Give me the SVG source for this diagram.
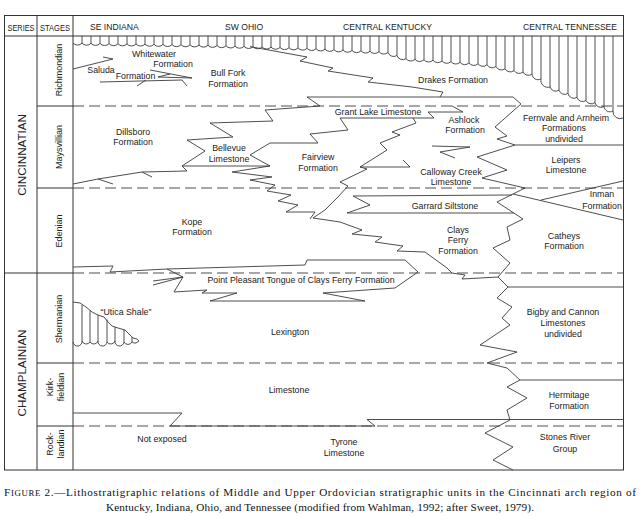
<svg xmlns="http://www.w3.org/2000/svg" width="640" height="516" viewBox="0 0 640 516">
<style>
.fr{fill:none;stroke:#333;stroke-width:1}
.l{fill:none;stroke:#3a3a3a;stroke-width:0.9;stroke-linejoin:miter}
.d{fill:none;stroke:#3a3a3a;stroke-width:0.9;stroke-dasharray:11 5}
.t{font-family:"Liberation Sans",Arial,sans-serif;font-size:8.8px;fill:#222;text-anchor:middle}
.h{font-family:"Liberation Sans",Arial,sans-serif;font-size:8.6px;fill:#222}
.s{font-family:"Liberation Sans",Arial,sans-serif;font-size:9px;fill:#222;text-anchor:middle}
.se{font-family:"Liberation Sans",Arial,sans-serif;font-size:11.6px;fill:#222;text-anchor:middle}
.cap{font-family:"Liberation Serif","Times New Roman",serif;font-size:11.2px;fill:#111}
</style>
<rect width="640" height="516" fill="#fff"/>
<g id="frame">
<rect class="fr" x="4.5" y="15.5" width="619" height="454.5"/>
<path class="fr" d="M4.5,36H623.5M37,15.5V470M73,15.5V470M4.5,273H73M37,106H73M37,188H73M37,363H73M37,426H73"/>
</g>
<g id="headers">
<text class="h" x="7.5" y="30.5" font-size="7.4" textLength="27" lengthAdjust="spacingAndGlyphs">SERIES</text>
<text class="h" x="40" y="30.5" font-size="7.4" textLength="30" lengthAdjust="spacingAndGlyphs">STAGES</text>
<text class="h" x="90" y="30">SE INDIANA</text>
<text class="h" x="225" y="30">SW OHIO</text>
<text class="h" x="343" y="30">CENTRAL KENTUCKY</text>
<text class="h" x="523" y="30">CENTRAL TENNESSEE</text>
</g>
<g id="series">
<text class="se" transform="translate(25.5,155) rotate(-90)">CINCINNATIAN</text>
<text class="se" transform="translate(25.5,373) rotate(-90)">CHAMPLAINIAN</text>
</g>
<g id="stages">
<text class="s" transform="translate(61.5,70) rotate(-90)">Richmondian</text>
<text class="s" transform="translate(61.5,147) rotate(-90)">Maysvillian</text>
<text class="s" transform="translate(61.5,231) rotate(-90)">Edenian</text>
<text class="s" transform="translate(61.5,319) rotate(-90)">Shermanian</text>
<text class="s" transform="translate(53,387) rotate(-90)">Kirk-</text>
<text class="s" transform="translate(63.5,387) rotate(-90)">fieldian</text>
<text class="s" transform="translate(53,444) rotate(-90)">Rock-</text>
<text class="s" transform="translate(63.5,444) rotate(-90)">landian</text>
</g>
<g id="unconformity">
<path class="l" d="M82,36V43.1M91,36V43.3M100,36V43.4M109,36V43.6M118,36V43.7M127,36V43.9M136,36V44M145,36V44.1M154,36V44.3M163,36V44.4M172,36V44.6M181,36V44.7M190,36V44.8M199,36V45M208,36V45.2M217,36V45.5M226,36V45.8M235,36V46.1M244,36V46.3M253,36V46.6M262,36V46.9M271,36V47.1M280,36V47.4M289,36V47.7M298,36V47.9M307,36V48.3M316,36V48.7M325,36V49.1M334,36V49.6M343,36V50M352,36V50.4M361,36V50.8M370,36V51.2M379,36V51.6M388,36V52.4M397,36V55.5M406,36V58.7M415,36V59.3M424,36V59.7M433,36V60.2M442,36V60.9M451,36V61.6M460,36V62.3M469,36V62.9M478,36V63.8M487,36V64.7M496,36V66.5M505,36V68.8M514,36V70.6M523,36V72M532,36V74.1M541,36V78.9M550,36V87M559,36V90.2M568,36V93.4M577,36V97.4M586,36V100.6M595,36V102.6M604,36V106.5M613,36V111"/>
<path class="l" d="M73,43A6 6 0 0 0 82,43.1A6 6 0 0 0 91,43.3A6 6 0 0 0 100,43.4A6 6 0 0 0 109,43.6A6 6 0 0 0 118,43.7A6 6 0 0 0 127,43.9A6 6 0 0 0 136,44A6 6 0 0 0 145,44.1A6 6 0 0 0 154,44.3A6 6 0 0 0 163,44.4A6 6 0 0 0 172,44.6A6 6 0 0 0 181,44.7A6 6 0 0 0 190,44.8A6 6 0 0 0 199,45A6 6 0 0 0 208,45.2A6 6 0 0 0 217,45.5A6 6 0 0 0 226,45.8A6 6 0 0 0 235,46.1A6 6 0 0 0 244,46.3A6 6 0 0 0 253,46.6A6 6 0 0 0 262,46.9A6 6 0 0 0 271,47.1A6 6 0 0 0 280,47.4A6 6 0 0 0 289,47.7A6 6 0 0 0 298,47.9A6 6 0 0 0 307,48.3A6 6 0 0 0 316,48.7A6 6 0 0 0 325,49.1A6 6 0 0 0 334,49.6A6 6 0 0 0 343,50A6 6 0 0 0 352,50.4A6 6 0 0 0 361,50.8A6 6 0 0 0 370,51.2A6 6 0 0 0 379,51.6A6 6 0 0 0 388,52.4A6 6 0 0 0 397,55.5A6 6 0 0 0 406,58.7A6 6 0 0 0 415,59.3A6 6 0 0 0 424,59.7A6 6 0 0 0 433,60.2A6 6 0 0 0 442,60.9A6 6 0 0 0 451,61.6A6 6 0 0 0 460,62.3A6 6 0 0 0 469,62.9A6 6 0 0 0 478,63.8A6 6 0 0 0 487,64.7A6 6 0 0 0 496,66.5A6 6 0 0 0 505,68.8A6 6 0 0 0 514,70.6A6 6 0 0 0 523,72A6 6 0 0 0 532,74.1A6 6 0 0 0 541,78.9A7 7 0 0 0 550,87A6 6 0 0 0 559,90.2A6 6 0 0 0 568,93.4A6 6 0 0 0 577,97.4A6 6 0 0 0 586,100.6A6 6 0 0 0 595,102.6A6 6 0 0 0 604,106.5A6 6 0 0 0 613,111A7 7 0 0 0 623,118"/>
</g>
<g id="utica-shale-body">
<path class="l" d="M73,302L80,303L86,307L92,312L98,315L104,317L108,322L112,326L118,328L125,330L129,334L133,338L137,339L139,341L136,343A4.5 4.5 0 0 1 132,342A4.5 4.5 0 0 1 124,342A4.5 4.5 0 0 1 115,341A4.5 4.5 0 0 1 107,342A4.5 4.5 0 0 1 98,341A4.5 4.5 0 0 1 90,342A4.5 4.5 0 0 1 82,341A4.5 4.5 0 0 1 73,342"/>
<path class="l" d="M82,305V341M90,310.5V342M98,315V341M107,319.5V342M115,327V341M124,329.7V342M132,337V342"/>
</g>
<g id="connectors">
<path class="d" d="M73,106H623M73,188H623M73,273H623M73,363H623M73,426H623"/>
<path class="l" d="M73,69L113,59L103,57M150,70L192,78L158,77L170,74M100,82L182,80L187,86M137,86L146,80"/>
<path class="l" d="M250,46.6L307,57L300,61L333,68L328,71L373,78L368,82L412,87L443,92L440,97"/>
<path class="l" d="M307,97L513,97"/>
<path class="l" d="M307,97L320,106L265,110L273,121L210,123L233,137L187,140L205,151L182,166"/>
<path class="l" d="M73,184L98,179L142,172L187,171L182,166M98,179L113,184M142,172L152,177"/>
<path class="l" d="M182,166L270,166"/>
<path class="l" d="M270,166L250,155L270,143L318,143L310,134L348,130L340,118"/>
<path class="l" d="M340,118L434,118L428,112L463,112L452,106"/>
<path class="l" d="M413,118L416,123L392,132L400,135L380,143L387,150L360,167L367,169L340,182L348,186L337,198L325,210L313,218"/>
<path class="l" d="M360,167L410,167L403,160M432,146L470,147L440,152L455,158"/>
<path class="l" d="M270,166L232,172L272,177L250,180L275,185L267,191L291,195L278,201L298,205L286,212L315,212L310,219"/>
<path class="l" d="M313,218L340,222L362,230L352,234L382,237L375,242L403,246L397,251L425,252L447,268L452,273L465,275L462,279L498,277"/>
<path class="l" d="M353,196L512,195M353,196L370,205L347,213L514,213"/>
<path class="l" d="M513,97L521,104L495,127L507,136L497,139L515,145L477,157L507,170L482,178L525,188L497,202L523,219L507,227L510,240L493,248L510,263L498,277L508,287L497,298L512,307L502,318L510,325L480,345L517,352L487,363L507,368L520,380L507,387L527,398L507,410L510,420L485,433L513,447L493,460L513,470"/>
<path class="l" d="M515,145H623M508,287H623M520,380H623M513,194L623,220M541,200L623,181"/>
<path class="l" d="M73,267L113,266L110,272L167,269L183,277L153,281"/>
<path class="l" d="M153,285L183,277L174,292L207,290L202,293L237,293L210,301L365,301L323,293L395,288"/>
<path class="l" d="M167,269L305,265L307,260L405,260L418,272L395,288"/>
<path class="l" d="M73,413L182,413L170,426L375,426L367,419.5L623,419.5"/>
</g>
<g id="whitewater"><text class="t" x="154" y="56.5">Whitewater</text><text class="t" x="173" y="67">Formation</text></g>
<g id="saluda"><text class="t" x="101" y="72.5">Saluda</text><text class="t" x="135.5" y="78.5">Formation</text></g>
<g id="bull-fork"><text class="t" x="228" y="76">Bull Fork</text><text class="t" x="228" y="86.5">Formation</text></g>
<g id="drakes"><text class="t" x="453" y="82.5">Drakes Formation</text></g>
<g id="grant-lake"><text class="t" x="378" y="115">Grant Lake Limestone</text></g>
<g id="ashlock"><text class="t" x="464" y="122.5">Ashlock</text><text class="t" x="465" y="133">Formation</text></g>
<g id="fernvale"><text class="t" x="566" y="120.5">Fernvale and Arnheim</text><text class="t" x="564" y="131">Formations</text><text class="t" x="564" y="141.5">undivided</text></g>
<g id="leipers"><text class="t" x="566" y="162.5">Leipers</text><text class="t" x="566" y="173">Limestone</text></g>
<g id="dillsboro"><text class="t" x="133" y="134.5">Dillsboro</text><text class="t" x="133" y="145">Formation</text></g>
<g id="bellevue"><text class="t" x="229" y="151">Bellevue</text><text class="t" x="229" y="161.5">Limestone</text></g>
<g id="fairview"><text class="t" x="318" y="160">Fairview</text><text class="t" x="318" y="171">Formation</text></g>
<g id="calloway-creek"><text class="t" x="451" y="175">Calloway Creek</text><text class="t" x="451" y="185">Limestone</text></g>
<g id="garrard"><text class="t" x="445" y="208.5">Garrard Siltstone</text></g>
<g id="inman"><text class="t" x="602" y="196.5">Inman</text><text class="t" x="602" y="208.5">Formation</text></g>
<g id="kope"><text class="t" x="192" y="225">Kope</text><text class="t" x="192" y="235">Formation</text></g>
<g id="clays-ferry"><text class="t" x="458" y="232.5">Clays</text><text class="t" x="458" y="243">Ferry</text><text class="t" x="458" y="253.5">Formation</text></g>
<g id="catheys"><text class="t" x="564" y="238.5">Catheys</text><text class="t" x="564" y="248.5">Formation</text></g>
<g id="point-pleasant"><text class="t" x="301" y="283">Point Pleasant Tongue of Clays Ferry Formation</text></g>
<g id="utica-shale"><text class="t" x="126" y="314.5">“Utica Shale”</text></g>
<g id="lexington"><text class="t" x="290" y="335">Lexington</text><text class="t" x="289" y="393">Limestone</text></g>
<g id="not-exposed"><text class="t" x="162" y="441.5">Not exposed</text></g>
<g id="tyrone"><text class="t" x="344" y="445">Tyrone</text><text class="t" x="344" y="455.5">Limestone</text></g>
<g id="bigby-cannon"><text class="t" x="563" y="315">Bigby and Cannon</text><text class="t" x="563" y="325.5">Limestones</text><text class="t" x="563" y="336.5">undivided</text></g>
<g id="hermitage"><text class="t" x="569" y="398">Hermitage</text><text class="t" x="569" y="409">Formation</text></g>
<g id="stones-river"><text class="t" x="565" y="440">Stones River</text><text class="t" x="565" y="451.5">Group</text></g>
<g id="caption">
<text class="cap" x="4" y="496" textLength="632" lengthAdjust="spacing">F<tspan font-size="8.8">IGURE</tspan> 2.—Lithostratigraphic relations of Middle and Upper Ordovician stratigraphic units in the Cincinnati arch region of</text>
<text class="cap" x="106" y="510.5" textLength="428" lengthAdjust="spacing">Kentucky, Indiana, Ohio, and Tennessee (modified from Wahlman, 1992; after Sweet, 1979).</text>
</g>
</svg>
